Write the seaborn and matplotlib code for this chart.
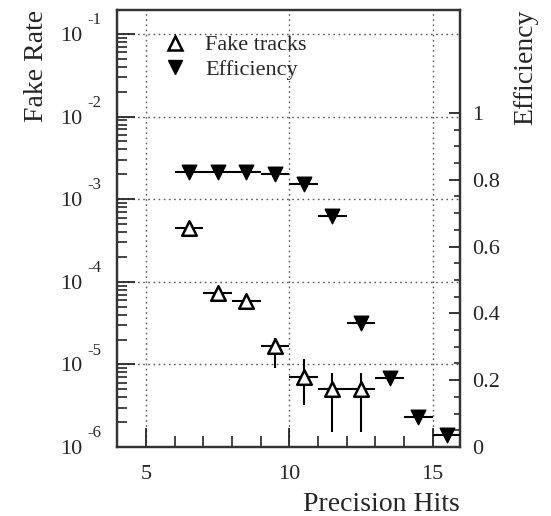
import matplotlib
matplotlib.use("Agg")
import matplotlib.pyplot as plt
import numpy as np
import pandas as pd
import seaborn as sns
from matplotlib.lines import Line2D
from matplotlib.ticker import FixedLocator, LogLocator, MultipleLocator, NullFormatter

# values
eff_hits = [6.5, 7.5, 8.5, 9.5, 10.5, 11.5, 12.5, 13.5, 14.5, 15.5]
efficiency = [0.823, 0.823, 0.822, 0.817, 0.787, 0.69, 0.372, 0.207, 0.09, 0.036]

fake_hits = [6.5, 7.5, 8.5, 9.5, 10.5, 11.5, 12.5]
fake_rate = [4.5e-4, 7.4e-5, 5.8e-5, 1.66e-5, 7.1e-6, 5.0e-6, 5.0e-6]
fake_low = [4.0e-4, 6.6e-5, 5.2e-5, 9.1e-6, 3.2e-6, 1.5e-6, 1.5e-6]
fake_high = [5.0e-4, 8.2e-5, 6.4e-5, 2.1e-5, 1.15e-5, 7.9e-6, 7.9e-6]

decades = [1e-1, 1e-2, 1e-3, 1e-4, 1e-5, 1e-6]
decade_exp = ["-1", "-2", "-3", "-4", "-5", "-6"]
eff_ticks = [0, 0.2, 0.4, 0.6, 0.8, 1]
eff_labels = ["0", "0.2", "0.4", "0.6", "0.8", "1"]

eff_df = pd.DataFrame({"hits": eff_hits, "efficiency": efficiency})
fake_df = pd.DataFrame({"hits": fake_hits, "rate": fake_rate,
                        "low": fake_low, "high": fake_high})

sns.set_theme(style="ticks")
plt.rcParams["font.family"] = ["Liberation Serif", "DejaVu Serif"]
plt.rcParams["axes.linewidth"] = 1.6
plt.rcParams["axes.edgecolor"] = "0.2"
plt.rcParams["text.color"] = "0.15"

fig = plt.figure(figsize=(5.51, 5.16), dpi=100)
ax = fig.add_axes([0.2123, 0.1337, 0.6225, 0.8469])
ax2 = ax.twinx()

# fake rate (left, log)
ax.set_yscale("log")
ax.set_xlim(3.99, 15.95)
ax.set_ylim(1e-6, 10 ** -0.71)
ax.grid(True, which="major", ls=(0, (1.2, 2.5)), color="0.35", lw=1.0)
yerr = np.vstack([fake_df["rate"] - fake_df["low"], fake_df["high"] - fake_df["rate"]])
ax.errorbar(fake_df["hits"], fake_df["rate"], xerr=0.5, yerr=yerr, fmt="none",
            ecolor="black", elinewidth=1.5, capsize=0, zorder=3)
sns.scatterplot(data=fake_df, x="hits", y="rate", marker="^", s=110,
                facecolor="white", edgecolor="black", linewidth=1.8, ax=ax, zorder=4)

# efficiency (right, linear)
ax2.set_ylim(0, 1.308)
ax2.errorbar(eff_df["hits"], eff_df["efficiency"], xerr=0.5, fmt="none",
             ecolor="black", elinewidth=1.5, capsize=0, zorder=3)
sns.scatterplot(data=eff_df, x="hits", y="efficiency", marker="v", s=110,
                color="black", edgecolor="black", linewidth=1.0, ax=ax2, zorder=4)
ax2.grid(False)

# ticks
ax.xaxis.set_major_locator(FixedLocator([5, 10, 15]))
ax.xaxis.set_minor_locator(MultipleLocator(1))
ax.yaxis.set_major_locator(FixedLocator(decades))
ax.yaxis.set_minor_locator(LogLocator(base=10, subs=np.arange(2, 10)))
ax.yaxis.set_minor_formatter(NullFormatter())
ax.set_yticklabels(["10"] * len(decades))
ax.tick_params(axis="x", which="major", direction="in", length=14, width=1.3,
               labelsize=16, pad=13, top=False)
ax.tick_params(axis="x", which="minor", direction="in", length=8, width=1.2, top=False)
ax.tick_params(axis="y", which="major", direction="in", length=13, width=1.3,
               labelsize=16, pad=25, right=False)
ax.tick_params(axis="y", which="minor", direction="in", length=7, width=1.2, right=False)
for exp, d in zip(decade_exp, decades):
    ax.annotate(exp, xy=(0, d), xycoords=ax.get_yaxis_transform(),
                xytext=(-16.5, 10), textcoords="offset points",
                ha="center", va="center", fontsize=12)

ax2.yaxis.set_major_locator(FixedLocator(eff_ticks))
ax2.yaxis.set_minor_locator(FixedLocator(np.arange(0, 1.001, 0.05)))
ax2.set_yticklabels(eff_labels)
ax2.tick_params(axis="y", which="major", direction="in", length=8, width=1.3,
                labelsize=16, pad=9)
ax2.tick_params(axis="y", which="minor", direction="in", length=4.5, width=1.2)
ax2.tick_params(axis="x", which="both", bottom=False, top=False)

ax.set_xlabel("Precision Hits", fontsize=20, loc="right")
ax.xaxis.set_label_coords(1.0, -0.102)
ax.set_ylabel("Fake Rate", fontsize=20, loc="top")
ax.yaxis.set_label_coords(-0.198, 1.0)
ax2.set_ylabel("Efficiency", fontsize=20, loc="top")
ax2.yaxis.set_label_coords(1.155, 1.0)

handles = [
    Line2D([], [], ls="none", marker="^", ms=10.5, mfc="white", mec="black", mew=1.8),
    Line2D([], [], ls="none", marker="v", ms=10.5, mfc="black", mec="black"),
]
ax2.legend(handles, ["Fake tracks", "Efficiency"], loc="upper left",
           bbox_to_anchor=(0.137, 0.943), frameon=False, fontsize=16,
           handlelength=1.0, handletextpad=0.85, labelspacing=0.19,
           borderpad=0, borderaxespad=0)

fig.savefig("out.png", dpi=100)
